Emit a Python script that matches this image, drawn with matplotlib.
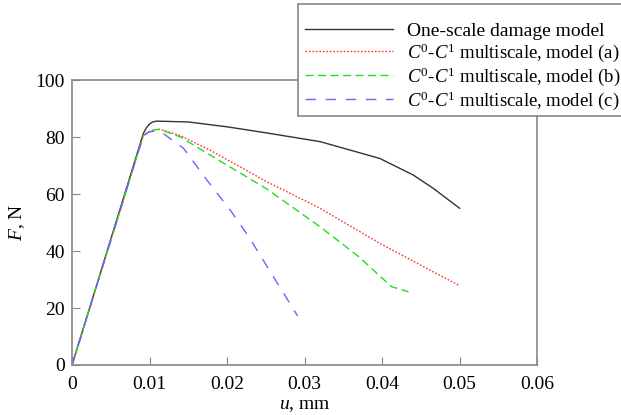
import matplotlib.pyplot as plt
from matplotlib.patches import Rectangle

plt.rcParams['font.family'] = ['Liberation Serif', 'DejaVu Serif']
plt.rcParams['mathtext.fontset'] = 'custom'
plt.rcParams['mathtext.rm'] = 'Liberation Serif'
plt.rcParams['mathtext.it'] = 'Liberation Serif:italic'

# data (u in mm, F in N)
u_one = [0, 0.0092, 0.0096, 0.0100, 0.0104, 0.0109, 0.015, 0.020, 0.025, 0.032, 0.0397, 0.044, 0.0466, 0.050]
f_one = [0, 81.3, 83.3, 84.6, 85.3, 85.6, 85.3, 83.6, 81.5, 78.4, 72.5, 66.7, 62.0, 55.0]

u_a = [0, 0.0092, 0.0100, 0.0107, 0.0114, 0.014, 0.0178, 0.025, 0.032, 0.0397, 0.045, 0.050]
f_a = [0, 80.5, 82.0, 82.6, 82.7, 80.5, 75.4, 64.5, 55.0, 42.7, 35.0, 27.8]

u_b = [0, 0.0092, 0.0100, 0.0107, 0.0113, 0.014, 0.0178, 0.025, 0.032, 0.037, 0.0412, 0.0434]
f_b = [0, 80.5, 82.0, 82.6, 82.7, 80.0, 73.7, 62.0, 48.5, 38.0, 27.5, 25.7]

u_c = [0, 0.0092, 0.0098, 0.0103, 0.0110, 0.0118, 0.0144, 0.0174, 0.0204, 0.0228, 0.0291]
f_c = [0, 80.5, 81.6, 82.0, 82.0, 81.2, 76.0, 64.9, 54.4, 45.0, 17.2]

labels = ['One-scale damage model',
          '$C^0$-$C^1$ multiscale, model (a)',
          '$C^0$-$C^1$ multiscale, model (b)',
          '$C^0$-$C^1$ multiscale, model (c)']

fig = plt.figure(figsize=(6.21, 4.15), dpi=100)
ax = fig.add_axes([0.116, 0.1205, 0.749, 0.6865])

ax.plot(u_one, f_one, color='#333333', lw=1.0, label=labels[0])
ax.plot(u_a, f_a, color='#ff3333', lw=1.0, ls=(0, (1.2, 1.3)), label=labels[1])
ax.plot(u_b, f_b, color='#22dd22', lw=1.0, ls=(0, (5.8, 3.2)), label=labels[2])
ax.plot(u_c, f_c, color='#6666ff', lw=1.0, ls=(0, (7.5, 7)), label=labels[3])

ax.set_xlim(0, 0.06)
ax.set_ylim(0, 100)
ax.set_xticks([0, 0.01, 0.02, 0.03, 0.04, 0.05, 0.06])
ax.set_xticklabels(['0', '0.01', '0.02', '0.03', '0.04', '0.05', '0.06'])
ax.set_yticks([0, 20, 40, 60, 80, 100])
ax.tick_params(direction='in', length=6, color='#888888', labelsize=14)
ax.tick_params(axis='x', pad=8)
ax.tick_params(axis='y', pad=5)
for s in ax.spines.values():
    s.set_color('#888888')
    s.set_linewidth(1.2)

ax.set_xlabel('$u$, mm', fontsize=14, labelpad=3)
ax.set_ylabel('$F$, N', fontsize=14, labelpad=6)

# legend box sticks out past the right edge of the figure
box = Rectangle((298 / 621, 1 - 116 / 415), 0.6, 112 / 415, transform=fig.transFigure,
                facecolor='white', edgecolor='#888888', lw=1.2, clip_on=False, zorder=4)
ax.add_patch(box)

leg = ax.legend(loc='center left', bbox_to_anchor=(305 / 621, 1 - 67 / 415),
                bbox_transform=fig.transFigure, fontsize=14, frameon=False,
                handlelength=4.5, handletextpad=0.75, borderpad=0,
                labelspacing=0.07, borderaxespad=0)
for t in leg.get_texts()[1:]:
    t.set_fontsize(13.5)
leg.set_zorder(6)

fig.savefig('out.png', dpi=100)
